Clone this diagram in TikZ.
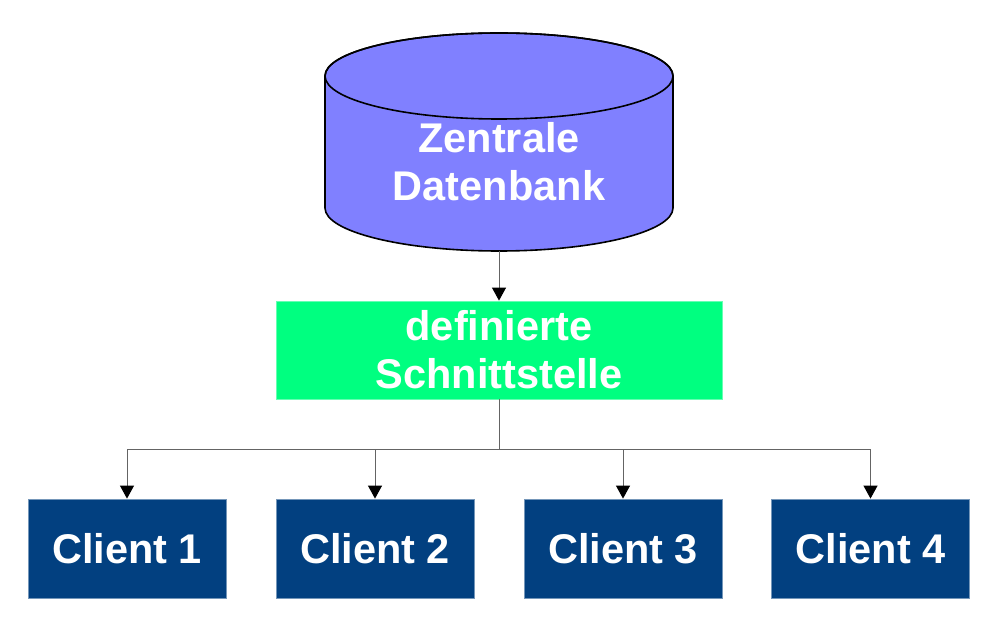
\documentclass[tikz,border=0pt]{standalone}
\usepackage{fontspec}
\setmainfont{Liberation Sans}
\usetikzlibrary{arrows.meta}

\definecolor{dbblue}{RGB}{128,128,255}
\definecolor{ifgreen}{RGB}{0,255,128}
\definecolor{clientblue}{RGB}{2,64,128}
\definecolor{linkgray}{RGB}{100,100,100}

\tikzset{
  boxtext/.style={text=white, font=\fontsize{41.5}{48}\selectfont\bfseries, align=center, inner sep=0pt},
  clientbox/.style={boxtext, fill=clientblue, draw=clientblue!55!white, line width=0.8pt,
    minimum width=198pt, minimum height=99pt},
  ifacebox/.style={boxtext, fill=ifgreen, draw=ifgreen!60!white, line width=0.8pt,
    minimum width=446pt, minimum height=98pt},
  link/.style={linkgray, line width=1pt},
  linkarrow/.style={link, -{Triangle[length=13pt,width=14pt,color=black]}}
}

\begin{document}
\begin{tikzpicture}[x=1pt, y=1pt]
    \useasboundingbox (0,0) rectangle (1000,619);

    % database cylinder
    \filldraw[fill=dbblue, draw=black, line width=1.6pt]
        (325,543) -- (325,411)
        arc[start angle=180, end angle=360, x radius=174, y radius=43]
        -- (673,543)
        arc[start angle=0, end angle=180, x radius=174, y radius=43] -- cycle;
    \draw[black, line width=1.6pt] (499,543) ellipse [x radius=174, y radius=43];
    \node[boxtext] (db) at (499,457) {Zentrale\\Datenbank};
    \coordinate (dbbottom) at (499,368);

    % interface
    \node[ifacebox] (iface) at (499,269) {definierte\\Schnittstelle};
    \draw[linkarrow] (dbbottom) -- (iface.north);

    % clients
    \node[clientbox] (client1) at (127,70.5) {Client 1};
    \node[clientbox] (client2) at (375,70.5) {Client 2};
    \node[clientbox] (client3) at (623,70.5) {Client 3};
    \node[clientbox] (client4) at (870.5,70.5) {Client 4};

    % bus
    \coordinate (bus) at (499,170);
    \draw[link] (iface.south) -- (bus);
    \draw[link] (client1.north |- bus) -- (client4.north |- bus);
    \foreach \i in {1,...,4}
        \draw[linkarrow] (client\i.north |- bus) -- (client\i.north);
\end{tikzpicture}
\end{document}
